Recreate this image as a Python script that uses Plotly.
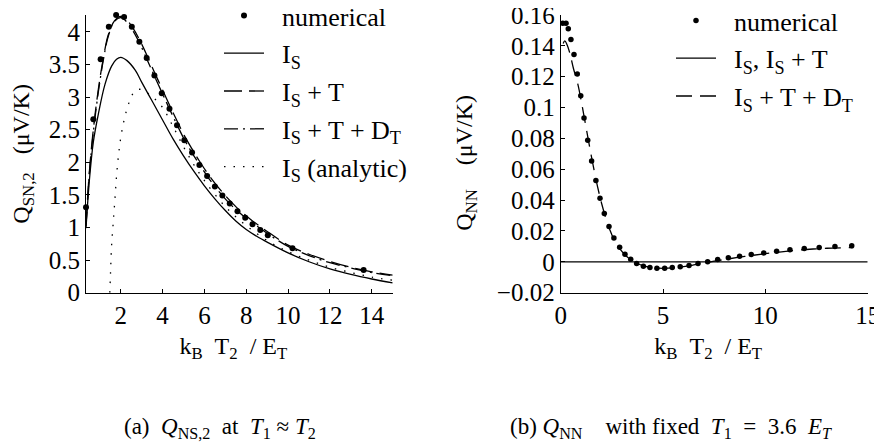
import plotly.graph_objects as go

# ---------------- panel (a) data ----------------
num_a_x = [0.34, 0.69, 1.04, 1.43, 1.78, 2.16, 2.53, 2.89, 3.24, 3.61, 3.96, 4.33, 4.69, 5.04,
           5.41, 5.76, 6.13, 6.50, 6.86, 7.21, 7.58, 7.95, 8.30, 8.67, 9.03, 10.21, 13.61]
num_a_y = [1.31, 2.66, 3.58, 4.08, 4.26, 4.23, 4.08, 3.85, 3.60, 3.33, 3.06, 2.82, 2.57, 2.34,
           2.15, 1.96, 1.79, 1.63, 1.49, 1.37, 1.25, 1.15, 1.05, 0.96, 0.88, 0.68, 0.35]

is_x = [0.34, 0.5, 0.69, 0.93, 1.25, 1.57, 1.8, 2.0, 2.3, 2.7, 3.0, 3.5, 4.0, 4.5, 5.0, 5.5,
        6.0, 6.5, 7.0, 7.5, 8.0, 8.5, 9.0, 10, 11, 12, 13, 14, 15]
is_y = [0.99, 1.72, 2.31, 2.74, 3.20, 3.48, 3.58, 3.61, 3.56, 3.41, 3.23, 2.94, 2.65, 2.36, 2.10, 1.86,
        1.64, 1.44, 1.26, 1.10, 0.97, 0.865, 0.775, 0.61, 0.475, 0.365, 0.28, 0.21, 0.15]

ist_x = [0.34, 0.5, 0.69, 0.93, 1.17, 1.4, 1.7, 2.0, 2.3, 2.6, 2.9, 3.24, 3.6, 4.0, 4.33, 4.7,
         5.04, 5.4, 5.76, 6.13, 6.5, 6.86, 7.2, 7.6, 8.0, 8.3, 8.7, 9.0, 10, 11, 12, 13, 14, 15]
ist_y = [1.05, 1.85, 2.50, 3.12, 3.60, 3.95, 4.17, 4.24, 4.18, 4.05, 3.88, 3.65, 3.39, 3.11, 2.88, 2.63,
         2.41, 2.21, 2.02, 1.84, 1.68, 1.54, 1.42, 1.29, 1.18, 1.10, 1.01, 0.94, 0.73, 0.59, 0.48, 0.39, 0.32, 0.27]
istd_y = [1.02, 1.82, 2.46, 3.08, 3.57, 3.93, 4.16, 4.22, 4.15, 4.01, 3.83, 3.59, 3.33, 3.05, 2.82, 2.57,
          2.35, 2.15, 1.97, 1.79, 1.63, 1.49, 1.37, 1.25, 1.14, 1.07, 0.98, 0.91, 0.71, 0.57, 0.46, 0.38, 0.31, 0.26]

an_x = [1.48, 1.52, 1.57, 1.65, 1.73, 1.81, 1.93, 2.05, 2.2, 2.4, 2.6, 2.85, 3.1, 3.5, 4.0, 4.5,
        5.0, 5.5, 6.0, 7.0, 8.0, 9.0, 10, 11, 12, 13, 14, 15]
an_y = [0.0, 0.38, 0.76, 1.11, 1.47, 1.83, 2.21, 2.47, 2.70, 2.92, 3.06, 3.12, 3.10, 3.01, 2.84, 2.55,
        2.24, 1.96, 1.72, 1.32, 1.03, 0.80, 0.63, 0.50, 0.39, 0.31, 0.24, 0.19]

xa_ticks = [2, 4, 6, 8, 10, 12, 14]
ya_ticks = [0, 0.5, 1, 1.5, 2, 2.5, 3, 3.5, 4]
ya_text = ["0", "0.5", "1", "1.5", "2", "2.5", "3", "3.5", "4"]

# ---------------- panel (b) data ----------------
num_b_x = [0.10, 0.26, 0.37, 0.50, 0.65, 0.81, 0.98, 1.14, 1.32, 1.51, 1.72, 1.92, 2.13, 2.36, 2.60,
           2.88, 3.14, 3.42, 3.71, 4.04, 4.36, 4.70, 5.08, 5.45, 5.84, 6.27, 6.71, 7.18, 7.67, 8.19,
           8.74, 9.31, 9.92, 10.55, 11.20, 11.90, 12.63, 13.40, 14.22]
num_b_y = [0.1547, 0.1547, 0.1511, 0.1441, 0.1344, 0.1217, 0.1077, 0.0932, 0.0788, 0.0654, 0.0527,
           0.0412, 0.0313, 0.0229, 0.0155, 0.0095, 0.0050, 0.0017, -0.0011, -0.0028, -0.0036, -0.0041,
           -0.0041, -0.0036, -0.0032, -0.0023, -0.0010, 0.0000, 0.0015, 0.0026, 0.0037, 0.0048, 0.0058,
           0.0069, 0.0078, 0.0087, 0.0093, 0.0100, 0.0104]

isb_x = [0, 15]
isb_y = [0, 0]

dt_x = [0.12, 0.2, 0.3, 0.45, 0.62, 0.84, 1.0, 1.2, 1.4, 1.6, 1.8, 2.0, 2.2, 2.4, 2.6, 2.9, 3.2, 3.5,
        3.8, 4.2, 4.6, 5.0, 5.5, 6.0, 6.5, 7.0, 7.5, 8.0, 9.0, 10, 11, 12, 13, 14.3]
dt_y = [0.1415, 0.1432, 0.1410, 0.1350, 0.1255, 0.1150, 0.1045, 0.0900, 0.0755, 0.0615, 0.0488, 0.0378,
        0.0285, 0.0208, 0.0145, 0.0082, 0.0038, 0.0008, -0.0014, -0.0031, -0.0039, -0.0042, -0.0039,
        -0.0031, -0.0020, -0.0008, 0.0004, 0.0015, 0.0035, 0.0053, 0.0068, 0.0080, 0.0088, 0.0093]

xb_ticks = [0, 5, 10, 15]
yb_ticks = [-0.02, 0, 0.02, 0.04, 0.06, 0.08, 0.1, 0.12, 0.14, 0.16]
yb_text = ["\u22120.02", "0", "0.02", "0.04", "0.06", "0.08", "0.1", "0.12", "0.14", "0.16"]

# the page body has an 8px margin: shift the figure so the window shows the same layout
OFF = 8
W, H = 882 - OFF, 442 - OFF


def px_x(p):
    return (p - OFF) / W


def px_y(p):
    return 1 - (p - OFF) / H


FONT = "Liberation Serif, Times New Roman, serif"
SP = "\u00a0"
ZW = "\u200b"
LEGFONT = 26
TICKFONT = 25
TITLEFONT = 24
CAPFONT = 23

# invisible leading padding widens the tick-label boxes so the y titles sit further out
ya_labels = [ZW + SP + "\u2009" + t for t in ya_text]
yb_labels = [ZW + SP * 2 + "\u200a" + t for t in yb_text]

fig = go.Figure()

lw = 1.3
fig.add_trace(go.Scatter(x=num_a_x, y=num_a_y, mode="markers", name=SP * 2 + "numerical",
                         marker=dict(color="black", size=6), cliponaxis=False,
                         xaxis="x", yaxis="y", legend="legend", legendgroup="a1"))
fig.add_trace(go.Scatter(x=is_x, y=is_y, mode="lines", name=SP * 2 + "I<sub>S</sub>",
                         line=dict(color="black", width=lw, shape="spline"),
                         xaxis="x", yaxis="y", legend="legend", legendgroup="a2"))
fig.add_trace(go.Scatter(x=ist_x, y=ist_y, mode="lines", name=SP * 2 + "I<sub>S</sub> + T",
                         line=dict(color="black", width=lw, dash="18px,7px", shape="spline"),
                         xaxis="x", yaxis="y", legend="legend", legendgroup="a3"))
fig.add_trace(go.Scatter(x=ist_x, y=istd_y, mode="lines", name=SP * 2 + "I<sub>S</sub> + T + D<sub>T</sub>",
                         line=dict(color="black", width=lw, dash="14px,5px,2px,5px", shape="spline"),
                         xaxis="x", yaxis="y", legend="legend", legendgroup="a4"))
fig.add_trace(go.Scatter(x=an_x, y=an_y, mode="lines", name=SP * 2 + "I<sub>S</sub> (analytic)",
                         line=dict(color="black", width=lw, dash="1.5px,8px", shape="spline"),
                         xaxis="x", yaxis="y", legend="legend", legendgroup="a5"))

fig.add_trace(go.Scatter(x=num_b_x, y=num_b_y, mode="markers", name=SP * 2 + "numerical",
                         marker=dict(color="black", size=5.5), cliponaxis=False,
                         xaxis="x2", yaxis="y2", legend="legend2", legendgroup="b1"))
fig.add_trace(go.Scatter(x=isb_x, y=isb_y, mode="lines", name=SP * 2 + "I<sub>S</sub>, I<sub>S</sub> + T",
                         line=dict(color="black", width=lw),
                         xaxis="x2", yaxis="y2", legend="legend2", legendgroup="b2"))
fig.add_trace(go.Scatter(x=dt_x, y=dt_y, mode="lines", name=SP * 2 + "I<sub>S</sub> + T + D<sub>T</sub>",
                         line=dict(color="black", width=lw, dash="16px,8px", shape="spline"),
                         xaxis="x2", yaxis="y2", legend="legend2", legendgroup="b3"))

axis_common = dict(showline=True, linecolor="black", linewidth=1, ticks="inside", ticklen=4,
                   tickcolor="black", tickwidth=1, showgrid=False, zeroline=False, automargin=True,
                   ticklabeloverflow="allow",
                   tickfont=dict(family=FONT, size=TICKFONT, color="black"), mirror=False)

xtitle = "k<sub>B</sub>" + SP * 2 + "T<sub>2</sub>" + SP * 2 + "/" + SP + "E<sub>T</sub>" + SP * 2 + ZW
ydom = [px_y(292.7), px_y(15)]
fig.update_layout(
    width=W, height=H, margin=dict(l=0, r=0, t=0, b=0, autoexpand=False),
    paper_bgcolor="white", plot_bgcolor="white",
    font=dict(family=FONT, color="black"),
    xaxis=dict(domain=[px_x(86), px_x(392.7)], range=[0.34, 15], tickmode="array", tickvals=xa_ticks,
               title=dict(text=xtitle, font=dict(family=FONT, size=TITLEFONT), standoff=9),
               anchor="y", **axis_common),
    yaxis=dict(domain=ydom, range=[0, 4.26], tickmode="array", tickvals=ya_ticks, ticktext=ya_labels,
               title=dict(text="Q<sub>SN,2</sub>" + SP * 3 + "(\u03bcV/K)",
                          font=dict(family=FONT, size=TITLEFONT), standoff=4),
               anchor="x", **axis_common),
    xaxis2=dict(domain=[px_x(560.7), px_x(867.7)], range=[0, 15], tickmode="array", tickvals=xb_ticks,
                title=dict(text=xtitle, font=dict(family=FONT, size=TITLEFONT), standoff=9),
                anchor="y2", **axis_common),
    yaxis2=dict(domain=ydom, range=[-0.02, 0.16], tickmode="array", tickvals=yb_ticks, ticktext=yb_labels,
                title=dict(text="Q<sub>NN</sub>" + SP * 4 + "(\u03bcV/K)" + SP * 3 + ZW,
                           font=dict(family=FONT, size=TITLEFONT), standoff=2),
                anchor="x2", **axis_common),
    legend=dict(x=211 / W, y=1 + 16 / H, xanchor="left", yanchor="top", bgcolor="rgba(0,0,0,0)",
                font=dict(family=FONT, size=LEGFONT), itemwidth=40, tracegroupgap=1,
                borderwidth=0),
    legend2=dict(x=663 / W, y=1 + 11 / H, xanchor="left", yanchor="top", bgcolor="rgba(0,0,0,0)",
                 font=dict(family=FONT, size=LEGFONT), itemwidth=40, tracegroupgap=1,
                 borderwidth=0),
    annotations=[
        dict(text="(a)" + SP * 2 + "<i>Q</i><sub>NS,2</sub>" + SP * 2 + "at" + SP * 2
                  + "<i>T</i><sub>1</sub>" + SP + "\u2248" + SP + "<i>T</i><sub>2</sub>",
             x=px_x(220), y=px_y(428), xref="paper", yref="paper", showarrow=False,
             xanchor="center", yanchor="middle", font=dict(family=FONT, size=CAPFONT)),
        dict(text="(b)" + SP + "<i>Q</i><sub>NN</sub>" + SP * 4 + "with" + SP + "fixed" + SP * 2
                  + "<i>T</i><sub>1</sub>" + SP * 2 + "=" + SP * 2 + "3.6" + SP * 2
                  + "<i>E</i><sub><i>T</i></sub>",
             x=px_x(671), y=px_y(428), xref="paper", yref="paper", showarrow=False,
             xanchor="center", yanchor="middle", font=dict(family=FONT, size=CAPFONT)),
    ],
)

fig.write_html("out.html")
